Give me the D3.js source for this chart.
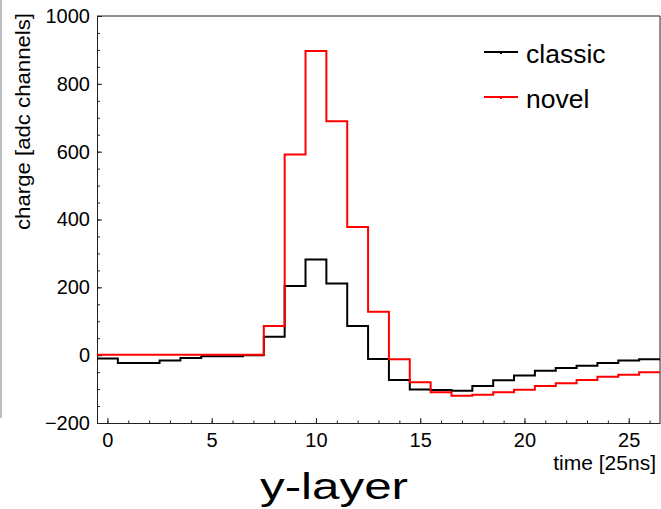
<!DOCTYPE html>
<html lang="en">
<script src="https://d3js.org/d3.v7.min.js"></script>
<style>
  body { margin: 0; background: white; }
  svg { display: block; font-family: "Liberation Sans", Arial, Helvetica, sans-serif; }
  .axis text { font-size: 20px; fill: black; }
  .axis path, .axis line { stroke: #222; }
</style>
<body>
<svg id="chart" width="661" height="509"></svg>
<script>
  // bin centres 0..26, one bin per 25ns time step
  var bins = d3.range(0, 27);
  var classic = [-10, -23, -23, -16, -8, -3, -3, 0, 54, 204, 282, 211, 86, -11, -73,
                 -101, -103, -105, -91, -74, -60, -46, -38, -31, -23, -16, -12];
  var novel = [1, 1, 1, 1, 1, 1, 1, 1, 86, 592, 897, 690, 378, 128, -12,
               -80, -109, -120, -117, -109, -102, -91, -83, -73, -64, -58, -50];
  var xMajor = [0, 5, 10, 15, 20, 25];
  var yMajor = [-200, 0, 200, 400, 600, 800, 1000];
  var legendLabels = ["classic", "novel"];
  var legendColors = ["#000000", "#ff0000"];

  var svg = d3.select("#chart");
  var plotL = 97, plotR = 660, plotT = 16, plotB = 423;

  var x = d3.scaleLinear().domain([-0.5, 26.5]).range([plotL, plotR]);
  var y = d3.scaleLinear().domain([-200, 1000]).range([plotB, plotT]);

  // grey line at the very left edge
  svg.append("line")
    .attr("x1", 1).attr("x2", 1).attr("y1", 0).attr("y2", 418)
    .attr("stroke", "#a8a8a8").attr("stroke-width", 1.5);

  // frame top and right
  svg.append("path")
    .attr("d", "M" + plotL + "," + plotT + "H" + plotR + "V" + plotB)
    .attr("fill", "none").attr("stroke", "#222").attr("stroke-width", 1);

  // x axis: minor then major
  svg.append("g").attr("class", "axis")
    .attr("transform", "translate(0," + plotB + ")")
    .call(d3.axisBottom(x).tickValues(d3.range(0, 27)).tickSize(-2.5).tickFormat(""))
    .call(function(g) { g.select(".domain").remove(); });
  svg.append("g").attr("class", "axis")
    .attr("transform", "translate(0," + plotB + ")")
    .call(d3.axisBottom(x).tickValues(xMajor).tickSize(-5).tickSizeOuter(0).tickPadding(10));

  // y axis
  svg.append("g").attr("class", "axis")
    .attr("transform", "translate(" + plotL + ",0)")
    .call(d3.axisLeft(y).tickValues(d3.range(-200, 1001, 50)).tickSize(-3).tickFormat(""))
    .call(function(g) { g.select(".domain").remove(); });
  svg.append("g").attr("class", "axis")
    .attr("transform", "translate(" + plotL + ",0)")
    .call(d3.axisLeft(y).tickValues(yMajor).tickSize(-5).tickSizeOuter(0).tickPadding(7)
      .tickFormat(function(d) { return d < 0 ? "\u2212" + Math.abs(d) : d; }));

  // histogram outline, ROOT style
  function steps(vals) {
    var pts = [];
    vals.forEach(function(v, i) {
      pts.push([x(bins[i] - 0.5), y(v)]);
      pts.push([x(bins[i] + 0.5), y(v)]);
    });
    return d3.line()(pts);
  }

  svg.append("path").attr("d", steps(classic))
    .attr("fill", "none").attr("stroke", legendColors[0]).attr("stroke-width", 2);
  svg.append("path").attr("d", steps(novel))
    .attr("fill", "none").attr("stroke", legendColors[1]).attr("stroke-width", 2);

  // legend
  var leg = svg.append("g").selectAll("g")
    .data(legendLabels).enter().append("g")
    .attr("transform", function(d, i) { return "translate(0," + (52 + i * 45) + ")"; });
  leg.append("line")
    .attr("x1", 484).attr("x2", 518).attr("y1", 0).attr("y2", 0)
    .attr("stroke", function(d, i) { return legendColors[i]; }).attr("stroke-width", 2);
  leg.append("rect")
    .attr("x", 500).attr("y", -1).attr("width", 2).attr("height", 3)
    .attr("fill", function(d, i) { return legendColors[i]; });
  leg.append("text")
    .attr("x", 526).attr("y", 10.8)
    .style("font-size", "26.5px")
    .text(function(d) { return d; });

  // axis titles
  svg.append("text")
    .attr("transform", "translate(29.5,13) rotate(-90)")
    .attr("text-anchor", "end")
    .attr("textLength", 217).attr("lengthAdjust", "spacingAndGlyphs")
    .style("font-size", "20px")
    .text("charge [adc channels]");

  svg.append("text")
    .attr("x", 656).attr("y", 469.5)
    .attr("text-anchor", "end")
    .style("font-size", "21px")
    .text("time [25ns]");

  svg.append("text")
    .attr("x", 260).attr("y", 499)
    .attr("textLength", 148).attr("lengthAdjust", "spacingAndGlyphs")
    .style("font-size", "36px")
    .text("y-layer");
</script>
</body>
</html>
